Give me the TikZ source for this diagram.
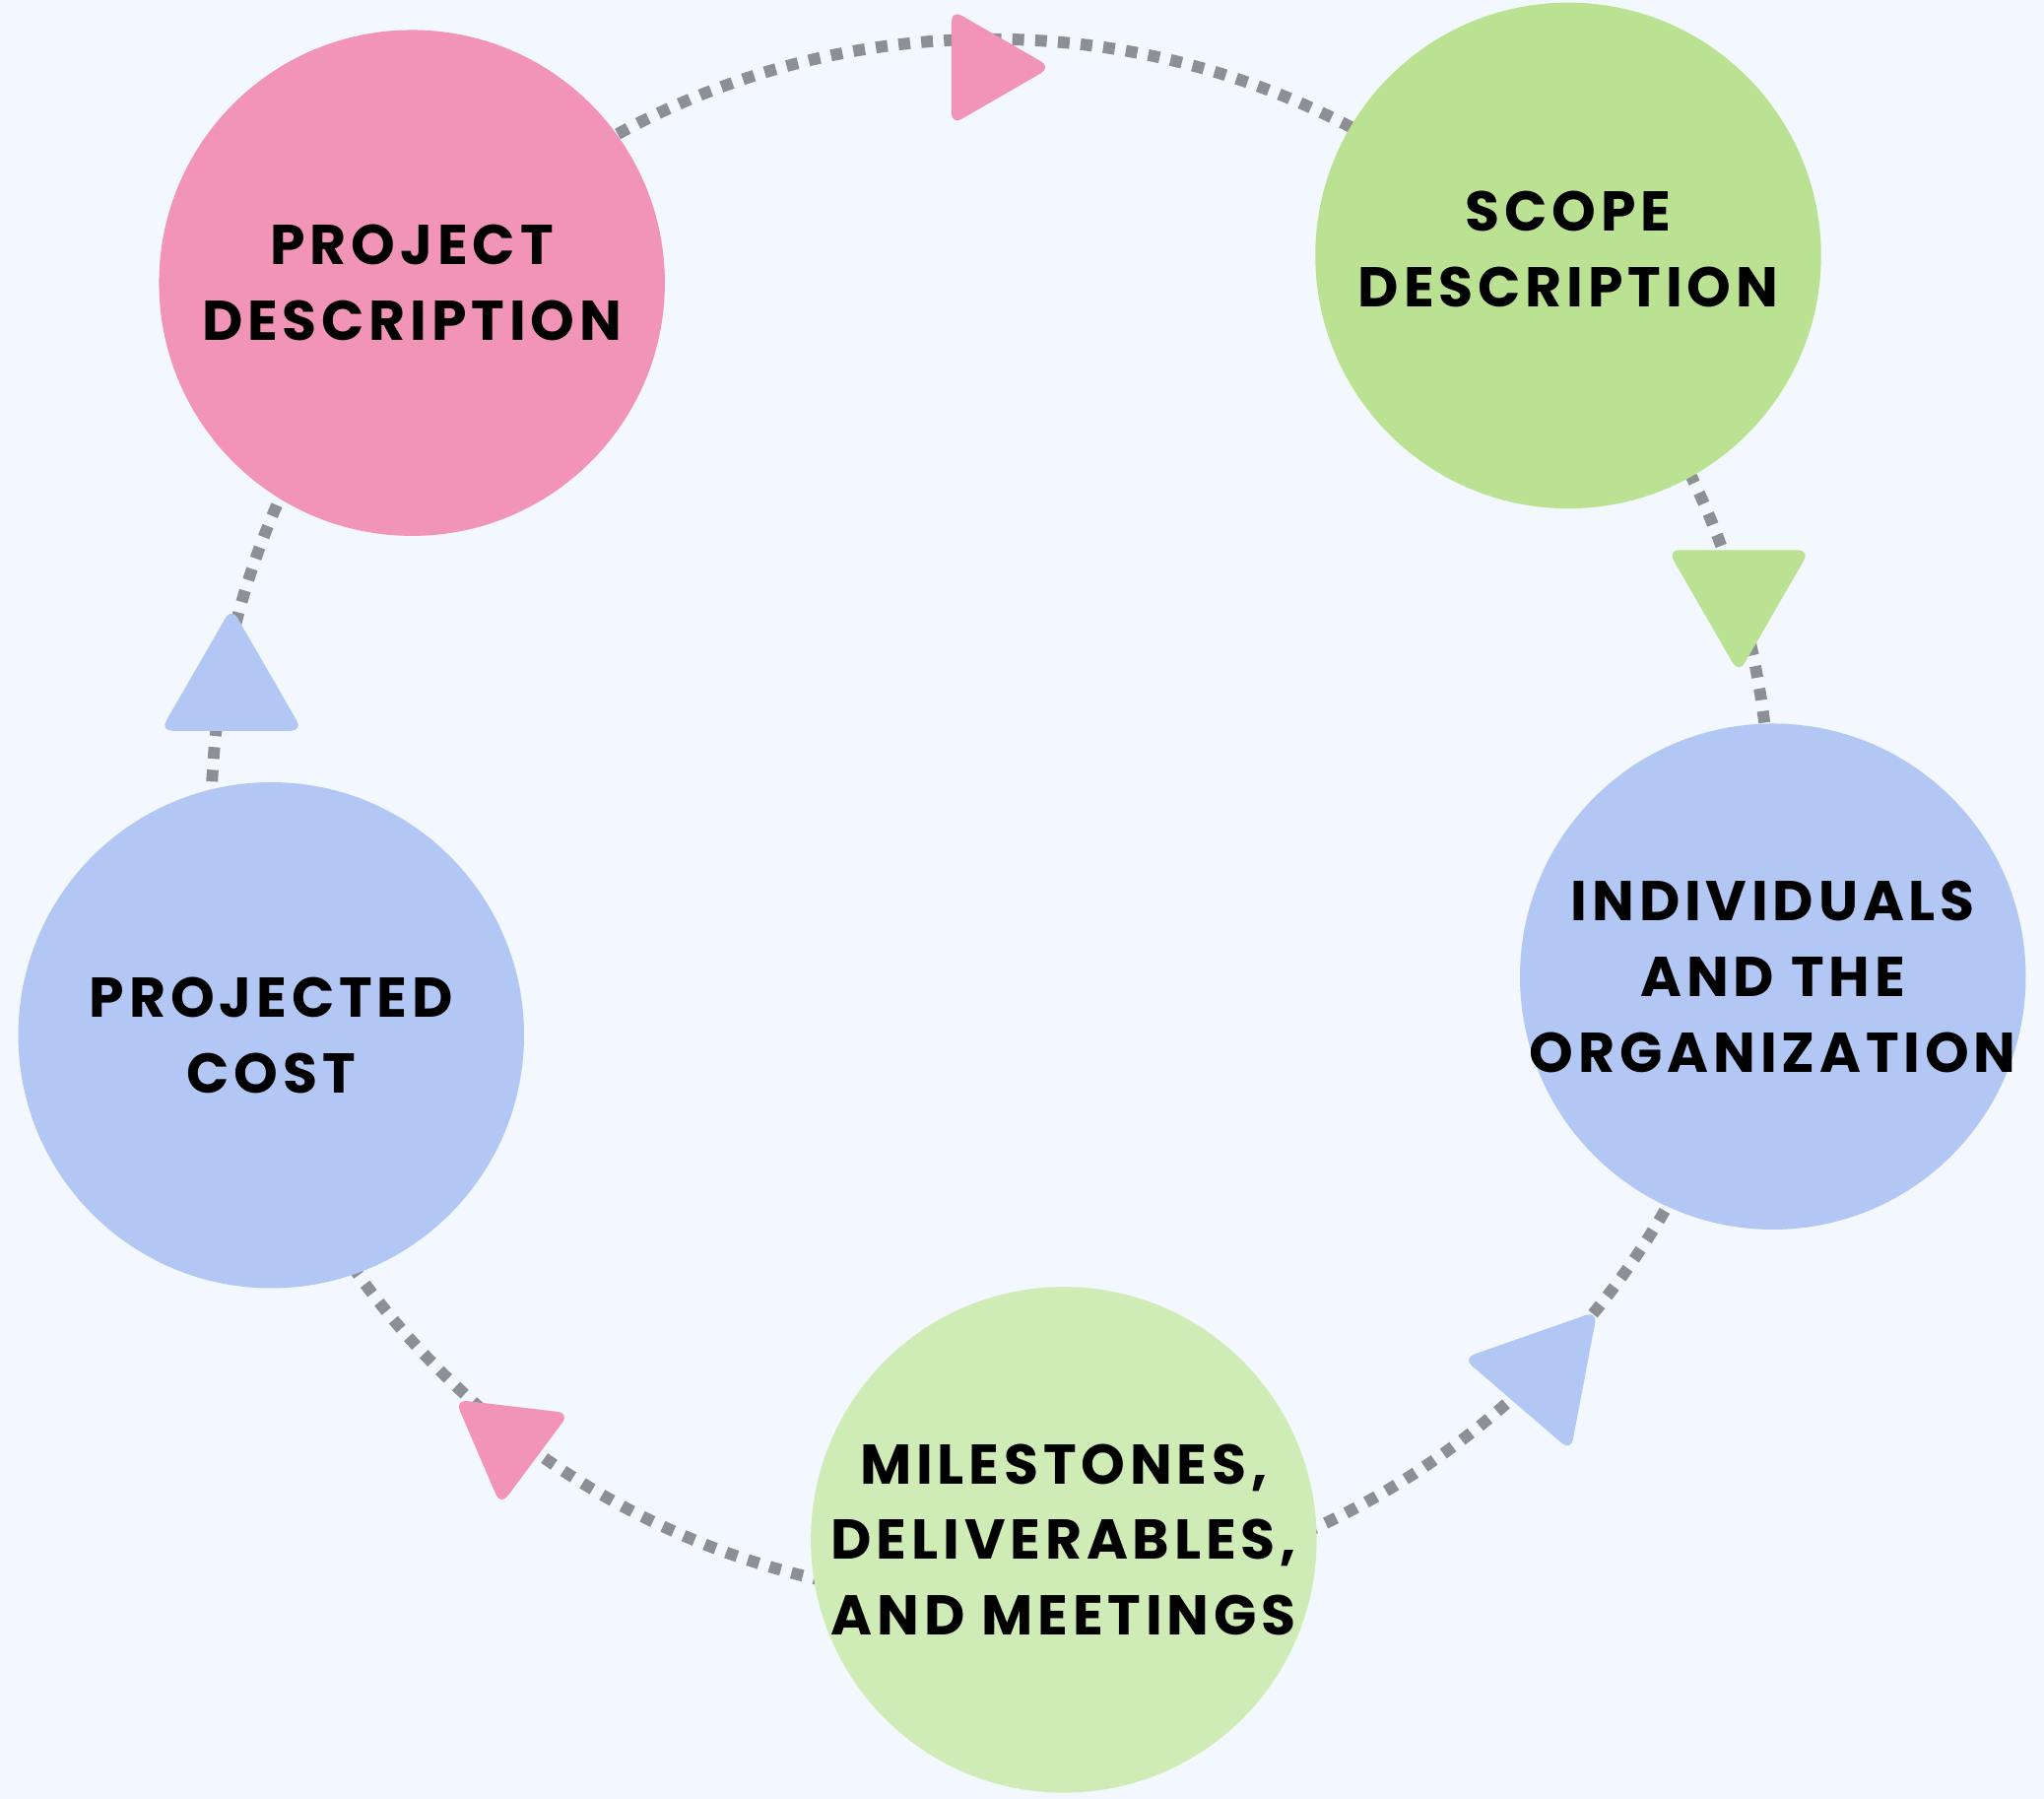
\documentclass[tikz,border=0pt]{standalone}
\usepackage{fontspec}
\setmainfont{Poppins}[LetterSpace=8.5]
\definecolor{bgc}{HTML}{F3F8FE}
\definecolor{pinkc}{HTML}{F294B7}
\definecolor{greenc}{HTML}{BBE293}
\definecolor{lgreenc}{HTML}{D0ECB6}
\definecolor{bluec}{HTML}{B3C7F5}
\definecolor{dotc}{HTML}{8C9094}
\tikzset{
  bubble/.style={circle, minimum size=388pt, inner sep=0pt},
  caption/.style={align=center, inner sep=0pt, font=\fontsize{43}{58}\selectfont\bfseries},
  ring/.style={draw=dotc, line width=9pt, dash pattern=on 9pt off 8.5pt},
}
\begin{document}
\begin{tikzpicture}[x=1pt,y=-1pt]
%background
\fill[bgc] (0,0) rectangle (1568,1379.8);
\useasboundingbox (0,0) rectangle (1568,1379.8);
%dotted ring
\coordinate (hub) at (760,628);
\draw[ring] (hub) circle (598);
%bubbles
\node[bubble, fill=pinkc, label={[caption]center:PROJECT\\DESCRIPTION}] (proj) at (316,217) {};
\node[bubble, fill=greenc, label={[caption, yshift=5pt]center:SCOPE\\DESCRIPTION}] (scope) at (1203,196) {};
\node[bubble, fill=bluec, label={[caption]center:INDIVIDUALS\\AND THE\\ORGANIZATION}] (indiv) at (1360,749) {};
\node[bubble, fill=lgreenc, label={[caption]center:MILESTONES,\\DELIVERABLES,\\AND MEETINGS}] (miles) at (816,1181) {};
\node[bubble, fill=bluec, label={[caption]center:PROJECTED\\COST}] (cost) at (208,794) {};
%arrow heads
\foreach \cx/\cy/\ang/\rr/\col in {755.4/51.6/0/51/pinkc, 1333.8/453.4/90/63/greenc,
    1184.2/1053.4/-49.3/63/bluec, 390/1104/216.7/51/pinkc, 177.6/529/-90/63/bluec}
  \fill[\col, rounded corners=9pt, shift={(\cx,\cy)}, rotate=-\ang]
    (\rr,0) -- (120:\rr) -- (240:\rr) -- cycle;
\end{tikzpicture}
\end{document}
